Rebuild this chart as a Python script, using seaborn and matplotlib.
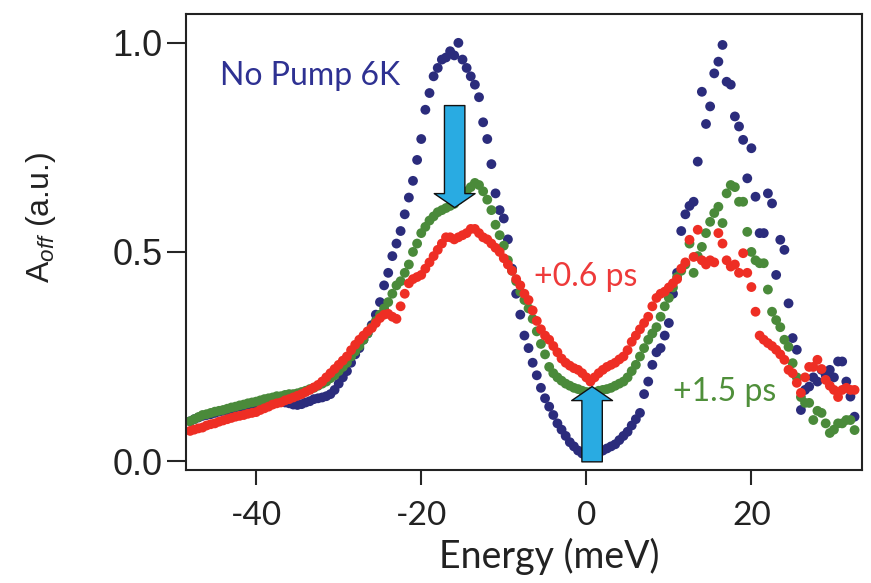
import numpy as np
import pandas as pd
import matplotlib
matplotlib.use("Agg")
import matplotlib.pyplot as plt
import seaborn as sns
from matplotlib.patches import FancyArrowPatch

# ---------------- data ----------------
energy = [
    -48.0, -47.5, -47.0, -46.5, -46.0, -45.5, -45.0, -44.5, -44.0, -43.5,
    -43.0, -42.5, -42.0, -41.5, -41.0, -40.5, -40.0, -39.5, -39.0, -38.5,
    -38.0, -37.5, -37.0, -36.5, -36.0, -35.5, -35.0, -34.5, -34.0, -33.5,
    -33.0, -32.5, -32.0, -31.5, -31.0, -30.5, -30.0, -29.5, -29.0, -28.5,
    -28.0, -27.5, -27.0, -26.5, -26.0, -25.5, -25.0, -24.5, -24.0, -23.5,
    -23.0, -22.5, -22.0, -21.5, -21.0, -20.5, -20.0, -19.5, -19.0, -18.5,
    -18.0, -17.5, -17.0, -16.5, -16.0, -15.5, -15.0, -14.5, -14.0, -13.5,
    -13.0, -12.5, -12.0, -11.5, -11.0, -10.5, -10.0, -9.5, -9.0, -8.5,
    -8.0, -7.5, -7.0, -6.5, -6.0, -5.5, -5.0, -4.5, -4.0, -3.5,
    -3.0, -2.5, -2.0, -1.5, -1.0, -0.5, 0.0, 0.5, 1.0, 1.5,
    2.0, 2.5, 3.0, 3.5, 4.0, 4.5, 5.0, 5.5, 6.0, 6.5,
    7.0, 7.5, 8.0, 8.5, 9.0, 9.5, 10.0, 10.5, 11.0, 11.5,
    12.0, 12.5, 13.0, 13.5, 14.0, 14.5, 15.0, 15.5, 16.0, 16.5,
    17.0, 17.5, 18.0, 18.5, 19.0, 19.5, 20.0, 20.5, 21.0, 21.5,
    22.0, 22.5, 23.0, 23.5, 24.0, 24.5, 25.0, 25.5, 26.0, 26.5,
    27.0, 27.5, 28.0, 28.5, 29.0, 29.5, 30.0, 30.5, 31.0, 31.5,
    32.0, 32.5,
]

no_pump = [
    0.095, 0.100, 0.104, 0.108, 0.110, 0.112, 0.115, 0.118, 0.120, 0.122,
    0.125, 0.128, 0.130, 0.130, 0.132, 0.135, 0.137, 0.135, 0.138, 0.140,
    0.142, 0.140, 0.142, 0.140, 0.138, 0.135, 0.134, 0.136, 0.140, 0.143,
    0.148, 0.150, 0.152, 0.155, 0.160, 0.170, 0.185, 0.200, 0.215, 0.235,
    0.255, 0.270, 0.290, 0.305, 0.325, 0.350, 0.380, 0.420, 0.450, 0.490,
    0.520, 0.550, 0.590, 0.630, 0.670, 0.720, 0.770, 0.840, 0.880, 0.920,
    0.940, 0.960, 0.965, 0.980, 0.970, 1.000, 0.960, 0.940, 0.920, 0.900,
    0.870, 0.810, 0.770, 0.710, 0.640, 0.600, 0.580, 0.530, 0.460, 0.400,
    0.350, 0.300, 0.270, 0.235, 0.205, 0.175, 0.150, 0.130, 0.110, 0.090,
    0.075, 0.060, 0.045, 0.035, 0.025, 0.018, 0.012, 0.010, 0.012, 0.018,
    0.025, 0.030, 0.035, 0.040, 0.050, 0.060, 0.070, 0.085, 0.100, 0.115,
    0.160, 0.190, 0.230, 0.260, 0.270, 0.300, 0.330, 0.400, 0.450, 0.550,
    0.590, 0.610, 0.620, 0.716, 0.883, 0.806, 0.848, 0.927, 0.955, 0.995,
    0.907, 0.900, 0.824, 0.800, 0.768, 0.676, 0.748, 0.632, 0.545, 0.545,
    0.640, 0.616, 0.445, 0.529, 0.505, 0.377, 0.294, 0.266, 0.122, 0.170,
    0.178, 0.200, 0.190, 0.218, 0.205, 0.218, 0.200, 0.238, 0.238, 0.190,
    0.154, 0.106,
]

plus_1_5ps = [
    0.095, 0.100, 0.105, 0.110, 0.112, 0.115, 0.118, 0.120, 0.122, 0.125,
    0.128, 0.130, 0.133, 0.135, 0.138, 0.140, 0.142, 0.145, 0.148, 0.150,
    0.152, 0.155, 0.155, 0.158, 0.160, 0.160, 0.162, 0.165, 0.168, 0.172,
    0.175, 0.180, 0.185, 0.190, 0.198, 0.205, 0.215, 0.225, 0.235, 0.250,
    0.262, 0.275, 0.290, 0.305, 0.320, 0.335, 0.350, 0.365, 0.380, 0.400,
    0.420, 0.430, 0.450, 0.470, 0.500, 0.520, 0.545, 0.560, 0.575, 0.585,
    0.595, 0.600, 0.605, 0.610, 0.615, 0.625, 0.635, 0.645, 0.655, 0.665,
    0.660, 0.645, 0.625, 0.600, 0.565, 0.540, 0.515, 0.480, 0.455, 0.430,
    0.405, 0.385, 0.365, 0.340, 0.310, 0.280, 0.255, 0.225, 0.210, 0.200,
    0.192, 0.185, 0.180, 0.175, 0.172, 0.168, 0.165, 0.165, 0.163, 0.168,
    0.170, 0.172, 0.175, 0.180, 0.185, 0.190, 0.200, 0.215, 0.230, 0.250,
    0.270, 0.290, 0.305, 0.320, 0.345, 0.370, 0.390, 0.415, 0.440, 0.455,
    0.470, 0.520, 0.450, 0.490, 0.512, 0.545, 0.572, 0.593, 0.608, 0.569,
    0.640, 0.660, 0.655, 0.620, 0.620, 0.548, 0.500, 0.480, 0.473, 0.473,
    0.410, 0.357, 0.337, 0.320, 0.290, 0.273, 0.234, 0.200, 0.153, 0.139,
    0.139, 0.098, 0.120, 0.115, 0.090, 0.067, 0.075, 0.090, 0.090, 0.098,
    0.098, 0.074,
]

plus_0_6ps = [
    0.072, 0.075, 0.078, 0.080, 0.085, 0.088, 0.090, 0.094, 0.097, 0.100,
    0.103, 0.106, 0.108, 0.110, 0.113, 0.115, 0.117, 0.122, 0.126, 0.130,
    0.135, 0.138, 0.140, 0.145, 0.148, 0.152, 0.156, 0.160, 0.165, 0.170,
    0.176, 0.182, 0.190, 0.200, 0.210, 0.220, 0.230, 0.240, 0.250, 0.265,
    0.278, 0.290, 0.300, 0.310, 0.318, 0.330, 0.342, 0.350, 0.352, 0.345,
    0.340, 0.370, 0.400, 0.425, 0.435, 0.440, 0.445, 0.460, 0.475, 0.490,
    0.505, 0.520, 0.535, 0.535, 0.530, 0.535, 0.540, 0.545, 0.555, 0.555,
    0.545, 0.535, 0.530, 0.520, 0.510, 0.500, 0.485, 0.470, 0.455, 0.435,
    0.420, 0.400, 0.385, 0.360, 0.335, 0.315, 0.300, 0.290, 0.275, 0.260,
    0.245, 0.235, 0.228, 0.222, 0.218, 0.210, 0.200, 0.190, 0.200, 0.210,
    0.218, 0.225, 0.230, 0.235, 0.243, 0.250, 0.265, 0.285, 0.300, 0.315,
    0.330, 0.345, 0.370, 0.390, 0.400, 0.405, 0.415, 0.425, 0.435, 0.460,
    0.475, 0.529, 0.488, 0.553, 0.480, 0.470, 0.480, 0.475, 0.545, 0.520,
    0.480, 0.465, 0.470, 0.450, 0.497, 0.450, 0.416, 0.357, 0.300, 0.290,
    0.282, 0.275, 0.266, 0.255, 0.242, 0.218, 0.210, 0.187, 0.163, 0.200,
    0.225, 0.225, 0.242, 0.220, 0.194, 0.180, 0.170, 0.153, 0.170, 0.175,
    0.170, 0.170,
]

series_names = ["No Pump 6K", "+1.5 ps", "+0.6 ps"]
series_colors = ["#2b2c7c", "#4a8a3a", "#ee2e24"]
x_ticks = [-40, -20, 0, 20]
y_ticks = [0.0, 0.5, 1.0]
y_tick_labels = ["0.0", "0.5", "1.0"]

# ---------------- figure ----------------
sns.set_theme(style="ticks")
plt.rcParams["font.family"] = ["Liberation Sans", "DejaVu Sans"]
plt.rcParams["mathtext.fontset"] = "custom"
plt.rcParams["mathtext.rm"] = "Liberation Sans"
plt.rcParams["mathtext.it"] = "Liberation Sans:italic"

df = pd.concat([
    pd.DataFrame({"Energy": energy, "A": no_pump, "series": series_names[0]}),
    pd.DataFrame({"Energy": energy, "A": plus_1_5ps, "series": series_names[1]}),
    pd.DataFrame({"Energy": energy, "A": plus_0_6ps, "series": series_names[2]}),
], ignore_index=True)

fig = plt.figure(figsize=(8.71, 5.83), dpi=100)
ax = fig.add_axes([186 / 871, 1 - 470 / 583, 676 / 871, 456 / 583])

sns.scatterplot(data=df, x="Energy", y="A", hue="series", hue_order=series_names,
                palette=series_colors, s=50, linewidth=0, legend=False, ax=ax)

ax.set_xlim(-48.5, 33.4)
ax.set_ylim(-0.0215, 1.069)
ax.set_xticks(x_ticks)
ax.set_xticklabels([str(t) for t in x_ticks], fontfamily="Lato", fontsize=24,
                   color="#222222")
ax.set_yticks(y_ticks)
ax.set_yticklabels(y_tick_labels, fontsize=26, color="#222222")
ax.tick_params(axis="y", direction="out", length=14, width=1.5, pad=3)
ax.tick_params(axis="x", direction="out", length=11, width=1.5, pad=11)
for sp in ax.spines.values():
    sp.set_visible(True)
    sp.set_color("#222222")
    sp.set_linewidth(1.5)

ax.set_xlabel("Energy (meV)", fontfamily="Lato", fontsize=27, color="#222222")
ax.xaxis.set_label_coords(0.537, -0.148)
ax.set_ylabel(r"A$_{\mathit{off}}$ (a.u.)", fontsize=23, color="#222222")
ax.yaxis.set_label_coords(-0.19, 0.553)

# annotations
ax.text(-33.5, 0.92, "No Pump 6K", color="#2e3192", fontfamily="Lato",
        fontsize=23, ha="center", va="center")
ax.text(-0.1, 0.44, "+0.6 ps", color="#ee3a3a", fontfamily="Lato",
        fontsize=23, ha="center", va="center")
ax.text(16.8, 0.164, "+1.5 ps", color="#4f8f3a", fontfamily="Lato",
        fontsize=23, ha="center", va="center")

arrow_style = "simple,head_length=0.48,head_width=1.4,tail_width=0.7"
down = FancyArrowPatch((-15.95, 0.85), (-15.95, 0.606), arrowstyle=arrow_style,
                       mutation_scale=21, shrinkA=0, shrinkB=0,
                       facecolor="#29abe2", edgecolor="#111111", linewidth=1, zorder=5)
up = FancyArrowPatch((0.7, -0.002), (0.7, 0.178), arrowstyle=arrow_style,
                     mutation_scale=21, shrinkA=0, shrinkB=0,
                     facecolor="#29abe2", edgecolor="#111111", linewidth=1, zorder=5)
ax.add_patch(down)
ax.add_patch(up)

fig.savefig("out.png", dpi=100)
